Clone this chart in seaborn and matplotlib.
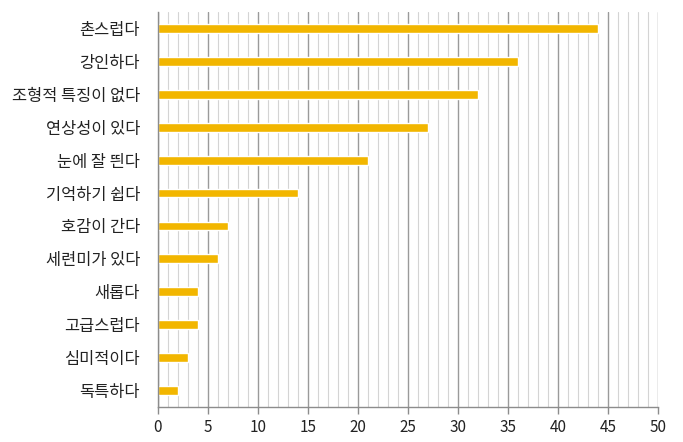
import matplotlib
matplotlib.use("Agg")
import matplotlib.pyplot as plt
import seaborn as sns
import pandas as pd
from matplotlib.ticker import MultipleLocator

categories = ["촌스럽다", "강인하다", "조형적 특징이 없다", "연상성이 있다", "눈에 잘 띈다",
              "기억하기 쉽다", "호감이 간다", "세련미가 있다", "새롭다", "고급스럽다",
              "심미적이다", "독특하다"]
values = [44, 36, 32, 27, 21, 14, 7, 6, 4, 4, 3, 2]
xticks = [0, 5, 10, 15, 20, 25, 30, 35, 40, 45, 50]

sns.set_theme(style="white")
plt.rcParams['font.family'] = ['Noto Sans CJK KR', 'DejaVu Sans']

df = pd.DataFrame({"cat": categories, "val": values})

fig = plt.figure(figsize=(6.83, 4.42), dpi=100)
ax = fig.add_axes([158/683, 35/442, 500/683, 395/442])

sns.barplot(data=df, x="val", y="cat", color="#F2B600", width=0.27, ax=ax,
            saturation=1, orient="h")

ax.set_xlim(0, 50)
ax.set_xticks(xticks)
ax.xaxis.set_minor_locator(MultipleLocator(1))
ax.grid(which="major", axis="x", color="#9a9a9a", linewidth=1.0)
ax.grid(which="minor", axis="x", color="#d4d4d4", linewidth=0.8)
ax.grid(False, axis="y")
ax.set_axisbelow(True)
ax.set_xlabel("")
ax.set_ylabel("")
for s in ["top", "right"]:
    ax.spines[s].set_visible(False)
for s in ["left", "bottom"]:
    ax.spines[s].set_color("#8c8c8c")
    ax.spines[s].set_linewidth(1.0)
ax.tick_params(axis="x", which="major", length=5, width=1, color="#8c8c8c",
               bottom=True, labelsize=11, labelcolor="#222222", pad=4)
ax.tick_params(axis="x", which="minor", length=0)
ax.tick_params(axis="y", length=0, labelsize=11.8, labelcolor="#222222", pad=13)

fig.savefig("out.png", dpi=100)
